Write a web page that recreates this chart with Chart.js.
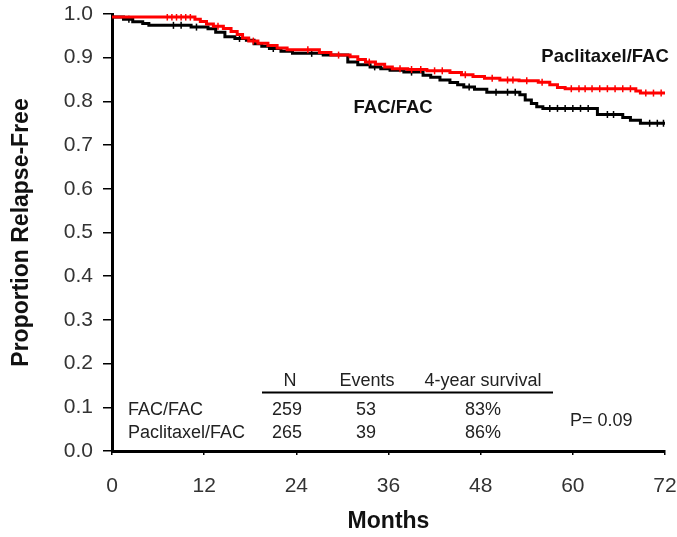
<!DOCTYPE html>
<html>
<head>
<meta charset="utf-8">
<script src="https://cdn.jsdelivr.net/npm/chart.js@4.4.1/dist/chart.umd.min.js"></script>
<style>
  html, body { margin: 0; padding: 0; background: #ffffff; }
  #wrap { width: 677px; height: 537px; }
</style>
</head>
<body>
<div id="wrap"><canvas id="km" width="677" height="537"></canvas></div>
<script>
// Kaplan-Meier step points: time in months and relapse-free proportion after each drop
const pacTimes  = [0, 10.8, 11.5, 12.3, 13.2, 14.5, 15.5, 16.3, 17.0, 17.8, 19.0, 20.3, 21.5, 22.8, 27.0, 28.5, 31.0, 32.0, 33.0, 34.3, 35.5, 36.5, 38.5, 41.0, 44.0, 45.5, 47.0, 48.5, 50.5, 53.0, 55.5, 57.0, 58.0, 59.0, 68.2, 68.8, 72];
const pacValues = [0.993, 0.988, 0.983, 0.977, 0.972, 0.967, 0.960, 0.953, 0.945, 0.938, 0.933, 0.928, 0.922, 0.918, 0.912, 0.906, 0.902, 0.896, 0.890, 0.885, 0.879, 0.875, 0.873, 0.870, 0.866, 0.861, 0.857, 0.853, 0.849, 0.847, 0.844, 0.838, 0.832, 0.829, 0.824, 0.819, 0.819];

const facTimes  = [0, 1.5, 2.7, 4.0, 4.8, 10.3, 12.5, 13.5, 14.7, 16.0, 17.5, 18.5, 19.5, 20.5, 22.0, 23.5, 27.5, 30.7, 32.0, 33.6, 35.0, 36.2, 38.0, 40.5, 41.5, 42.7, 44.0, 45.0, 45.8, 47.2, 48.8, 53.1, 53.8, 54.6, 55.3, 56.1, 63.2, 66.5, 67.5, 68.8, 72];
const facValues = [0.993, 0.988, 0.982, 0.978, 0.974, 0.970, 0.966, 0.958, 0.948, 0.944, 0.940, 0.932, 0.926, 0.921, 0.915, 0.910, 0.906, 0.890, 0.884, 0.879, 0.875, 0.871, 0.867, 0.860, 0.855, 0.849, 0.843, 0.838, 0.833, 0.828, 0.821, 0.815, 0.803, 0.795, 0.788, 0.784, 0.770, 0.763, 0.757, 0.750, 0.750];

// Censoring times (months)
const pacCensored = [7.2, 7.8, 8.4, 9.0, 9.6, 10.2, 13.8, 18.4, 25.5, 29.5, 33.5, 37.5, 39.0, 40.2, 42.0, 43.0, 46.0, 49.5, 51.5, 52.2, 54.0, 56.0, 59.8, 60.8, 61.6, 62.5, 63.5, 64.5, 65.5, 66.5, 67.5, 69.5, 70.5, 71.5];
const facCensored = [2.2, 8.0, 9.0, 11.0, 16.6, 21.0, 26.0, 34.2, 39.0, 46.5, 50.0, 51.5, 52.5, 57.0, 58.0, 59.0, 60.0, 61.0, 62.0, 64.5, 65.3, 70.0, 71.0, 71.8];

// Axis tick labels
const xTickLabels = ['0', '12', '24', '36', '48', '60', '72'];
const yTickLabels = ['0.0', '0.1', '0.2', '0.3', '0.4', '0.5', '0.6', '0.7', '0.8', '0.9', '1.0'];

// Summary table
const armNames    = ['FAC/FAC', 'Paclitaxel/FAC'];
const armN        = ['259', '265'];
const armEvents   = ['53', '39'];
const armSurvival = ['83%', '86%'];
const tableHeader = ['N', 'Events', '4-year survival'];
const pText = 'P= 0.09';

const FONT = '"Liberation Sans", Arial, Helvetica, sans-serif';

function toPoints(ts, vs) {
  return ts.map((t, i) => ({ x: t, y: vs[i] }));
}
// value of a step curve at a given time (last step at or before t)
function stepAt(ts, vs, t) {
  let v = vs[0];
  for (let i = 0; i < ts.length; i++) { if (ts[i] <= t) v = vs[i]; else break; }
  return v;
}
function censorPoints(ts, vs, cs) {
  return cs.map(t => ({ x: t, y: stepAt(ts, vs, t) }));
}

const annotations = {
  id: 'annotations',
  afterDatasetsDraw(chart) {
    const { ctx, scales: { x, y } } = chart;
    ctx.save();
    // curve labels
    ctx.fillStyle = '#111';
    ctx.font = 'bold 18.5px ' + FONT;
    ctx.textAlign = 'center';
    ctx.textBaseline = 'middle';
    ctx.fillText('Paclitaxel/FAC', x.getPixelForValue(64.2), y.getPixelForValue(0.902));
    ctx.fillText('FAC/FAC', x.getPixelForValue(36.6), y.getPixelForValue(0.785));

    // table
    ctx.font = '18px ' + FONT;
    ctx.fillStyle = '#222';
    const colX = [290, 367, 483];
    tableHeader.forEach((h, i) => ctx.fillText(h, colX[i], 381));
    ctx.strokeStyle = '#000';
    ctx.lineWidth = 2;
    ctx.beginPath();
    ctx.moveTo(262, 392.5);
    ctx.lineTo(553, 392.5);
    ctx.stroke();
    const rowY = [410, 433];
    armNames.forEach((name, r) => {
      ctx.textAlign = 'left';
      ctx.fillText(name, 128, rowY[r]);
      ctx.textAlign = 'center';
      ctx.fillText(armN[r], 287, rowY[r]);
      ctx.fillText(armEvents[r], 366, rowY[r]);
      ctx.fillText(armSurvival[r], 483, rowY[r]);
    });
    ctx.textAlign = 'left';
    ctx.fillText(pText, 570, 421);
    ctx.restore();
  }
};

new Chart(document.getElementById('km'), {
  type: 'line',
  data: {
    datasets: [
      {
        label: 'Paclitaxel/FAC',
        data: toPoints(pacTimes, pacValues),
        stepped: 'before',
        borderColor: '#ff0000',
        borderWidth: 3,
        pointRadius: 0,
        fill: false,
        order: 0
      },
      {
        label: 'Paclitaxel/FAC censored',
        type: 'scatter',
        data: censorPoints(pacTimes, pacValues, pacCensored),
        pointStyle: 'line',
        rotation: 90,
        radius: 3.5,
        borderColor: '#ff0000',
        borderWidth: 1.5,
        order: 0
      },
      {
        label: 'FAC/FAC',
        data: toPoints(facTimes, facValues),
        stepped: 'before',
        borderColor: '#000000',
        borderWidth: 3,
        pointRadius: 0,
        fill: false,
        order: 2
      },
      {
        label: 'FAC/FAC censored',
        type: 'scatter',
        data: censorPoints(facTimes, facValues, facCensored),
        pointStyle: 'line',
        rotation: 90,
        radius: 3.5,
        borderColor: '#000000',
        borderWidth: 1.5,
        order: 1
      }
    ]
  },
  options: {
    responsive: false,
    animation: false,
    devicePixelRatio: 1,
    layout: { padding: { left: 0, right: 12, top: 14, bottom: 0 } },
    plugins: { legend: { display: false }, tooltip: { enabled: false } },
    scales: {
      x: {
        type: 'linear',
        min: 0, max: 72,
        afterFit: s => { s.height = 86; s.paddingLeft = 0; s.paddingRight = 0; },
        ticks: {
          stepSize: 12,
          color: '#333',
          font: { family: FONT, size: 21 },
          padding: 19,
          maxRotation: 0,
          callback: (v) => xTickLabels[Math.round(v / 12)]
        },
        grid: { drawOnChartArea: false, drawTicks: true, tickLength: 4, color: '#000', lineWidth: 1.5 },
        border: { display: true, color: '#000', width: 3 },
        title: {
          display: true, text: 'Months', color: '#111',
          font: { family: FONT, size: 23, weight: 'bold' },
          padding: { top: 0, bottom: 2 }
        }
      },
      y: {
        min: 0, max: 1,
        afterFit: s => { s.width = 112; s.paddingTop = 0; s.paddingBottom = 0; },
        ticks: {
          stepSize: 0.1,
          color: '#333',
          font: { family: FONT, size: 21 },
          padding: 10,
          callback: (v) => yTickLabels[Math.round(v * 10)]
        },
        grid: { drawOnChartArea: false, drawTicks: true, tickLength: 9, color: '#000', lineWidth: 1.5 },
        border: { display: true, color: '#000', width: 3 },
        title: {
          display: true, text: 'Proportion Relapse-Free', color: '#111',
          font: { family: FONT, size: 23, weight: 'bold' },
          padding: { top: 8, bottom: 0 }
        }
      }
    }
  },
  plugins: [annotations]
});
</script>
</body>
</html>
